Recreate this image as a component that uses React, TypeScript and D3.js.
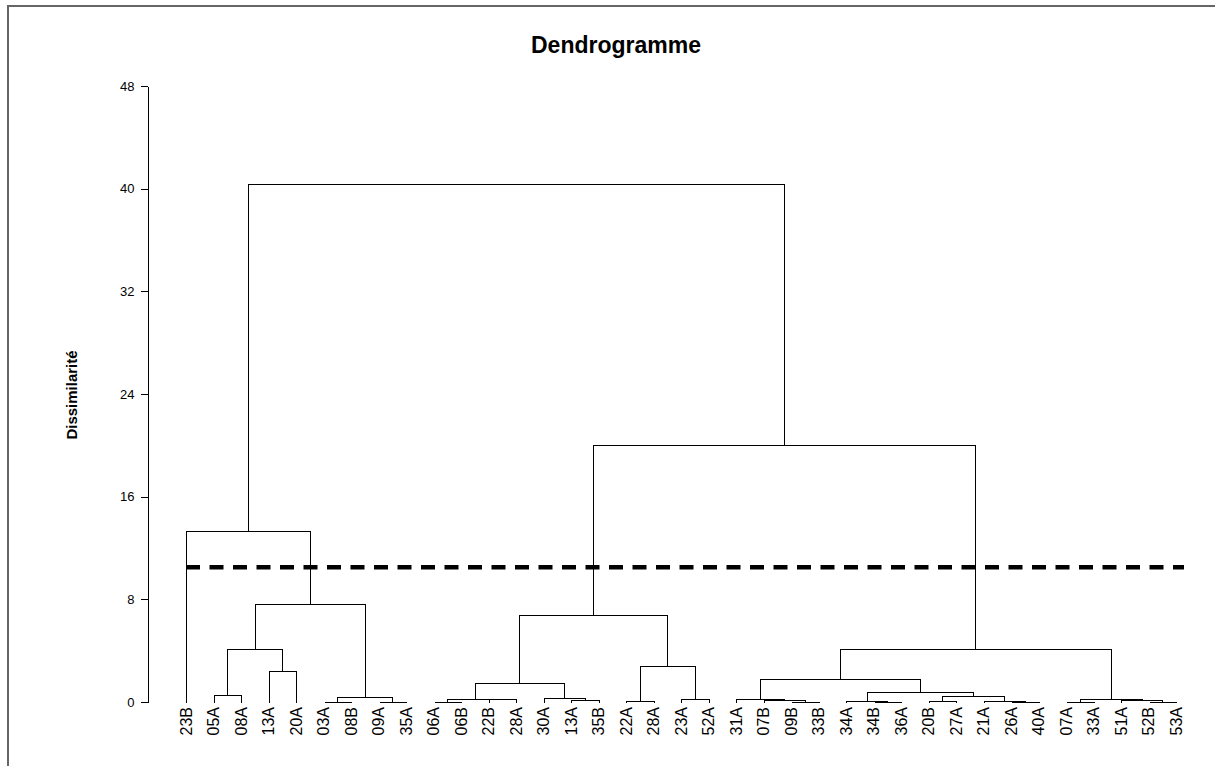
import { useEffect, useRef } from "react"
import * as d3 from "d3"

const chartTitle = "Dendrogramme"
const yAxisLabel = "Dissimilarité"

// leaf order, left to right
const leaves = [
    "23B", "05A", "08A", "13A", "20A", "03A", "08B", "09A", "35A",
    "06A", "06B", "22B", "28A", "30A", "13A", "35B", "22A", "28A", "23A", "52A",
    "31A", "07B", "09B", "33B", "34A", "34B", "36A", "20B", "27A", "21A", "26A", "40A",
    "07A", "33A", "51A", "52B", "53A",
]

// [left, right, height] - ids below leaves.length are leaves, above are earlier merges
const merges: [number, number, number][] = [
    [1, 2, 0.52],    // 37
    [3, 4, 2.42],    // 38
    [37, 38, 4.15],  // 39
    [5, 6, 0.03],    // 40
    [7, 8, 0.03],    // 41
    [40, 41, 0.41],  // 42
    [39, 42, 7.66],  // 43
    [0, 43, 13.3],   // 44
    [9, 10, 0.02],   // 45
    [11, 12, 0.2],   // 46
    [45, 46, 0.24],  // 47
    [14, 15, 0.14],  // 48
    [13, 48, 0.34],  // 49
    [47, 49, 1.48],  // 50
    [16, 17, 0.08],  // 51
    [18, 19, 0.23],  // 52
    [51, 52, 2.78],  // 53
    [50, 53, 6.78],  // 54
    [22, 23, 0.01],  // 55
    [21, 55, 0.12],  // 56
    [20, 56, 0.23],  // 57
    [25, 26, 0.0],   // 58
    [24, 58, 0.1],   // 59
    [27, 28, 0.08],  // 60
    [30, 31, 0.0],   // 61
    [29, 61, 0.05],  // 62
    [60, 62, 0.49],  // 63
    [59, 63, 0.8],   // 64
    [57, 64, 1.76],  // 65
    [32, 33, 0.0],   // 66
    [35, 36, 0.0],   // 67
    [34, 67, 0.15],  // 68
    [66, 68, 0.23],  // 69
    [65, 69, 4.13],  // 70
    [54, 70, 20.0],  // 71
    [44, 71, 40.4],  // 72
]

const yTicks = [0, 8, 16, 24, 32, 40, 48]
const cutLevel = 10.5

const font = "'Liberation Sans', Arial, sans-serif"

export default function App() {
    const svgRef = useRef<SVGSVGElement>(null)

    useEffect(() => {
        if (!svgRef.current) return
        const svg = d3.select(svgRef.current)
        svg.selectAll("*").remove()

        const x = d3.scalePoint<number>().domain(d3.range(leaves.length)).range([186, 1176])
        const y = d3.scaleLinear().domain([0, 48]).range([702, 86])
        const px = (v: number) => Math.round(v) + 0.5

        // frame
        svg.append("rect")
            .attr("x", 8).attr("y", 6)
            .attr("width", 1212).attr("height", 800)
            .attr("fill", "none")
            .attr("stroke", "#666")
            .attr("stroke-width", 2)

        svg.append("text")
            .attr("x", 616).attr("y", 53)
            .attr("text-anchor", "middle")
            .attr("font-family", font)
            .attr("font-weight", "bold")
            .attr("font-size", 23)
            .text(chartTitle)

        svg.append("text")
            .attr("transform", "translate(72,395) rotate(-90)")
            .attr("text-anchor", "middle")
            .attr("dy", "0.35em")
            .attr("font-family", font)
            .attr("font-weight", "bold")
            .attr("font-size", 15)
            .text(yAxisLabel)

        const axis = svg.append("g")
            .attr("transform", "translate(147.5,0)")
            .call(d3.axisLeft(y).tickValues(yTicks).tickSize(7).tickSizeOuter(0).tickPadding(6))
        axis.selectAll("text")
            .attr("font-family", font)
            .attr("font-size", 13)
            .attr("fill", "#000")
        axis.selectAll("line, path").attr("stroke", "#000").attr("shape-rendering", "crispEdges")

        // links
        const pos: number[] = leaves.map((_, i) => x(i) as number)
        const hgt: number[] = leaves.map(() => 0)
        const links = svg.append("g")
            .attr("fill", "none")
            .attr("stroke", "#000")
            .attr("stroke-width", 1)
            .attr("shape-rendering", "crispEdges")
        merges.forEach(([a, b, h]) => {
            const xa = px(pos[a]), xb = px(pos[b])
            const path = d3.path()
            path.moveTo(xa, px(y(hgt[a])))
            path.lineTo(xa, px(y(h)))
            path.lineTo(xb, px(y(h)))
            path.lineTo(xb, px(y(hgt[b])))
            links.append("path").attr("d", path.toString())
            pos.push((pos[a] + pos[b]) / 2)
            hgt.push(h)
        })

        // leaf labels
        svg.append("g")
            .selectAll("text")
            .data(leaves)
            .join("text")
            .attr("transform", (_, i) => `translate(${x(i)},707) rotate(-90)`)
            .attr("text-anchor", "end")
            .attr("dy", "0.35em")
            .attr("font-family", font)
            .attr("font-size", 16)
            .text(d => d)

        // truncation level
        svg.append("line")
            .attr("x1", 186).attr("x2", 1184)
            .attr("y1", y(cutLevel)).attr("y2", y(cutLevel))
            .attr("stroke", "#000")
            .attr("stroke-width", 4.5)
            .attr("stroke-dasharray", "14 9.5")
    }, [])

    return (
        <svg ref={svgRef} width={1215} height={766}
            style={{ position: "absolute", left: 0, top: 0, background: "#fff" }} />
    )
}
